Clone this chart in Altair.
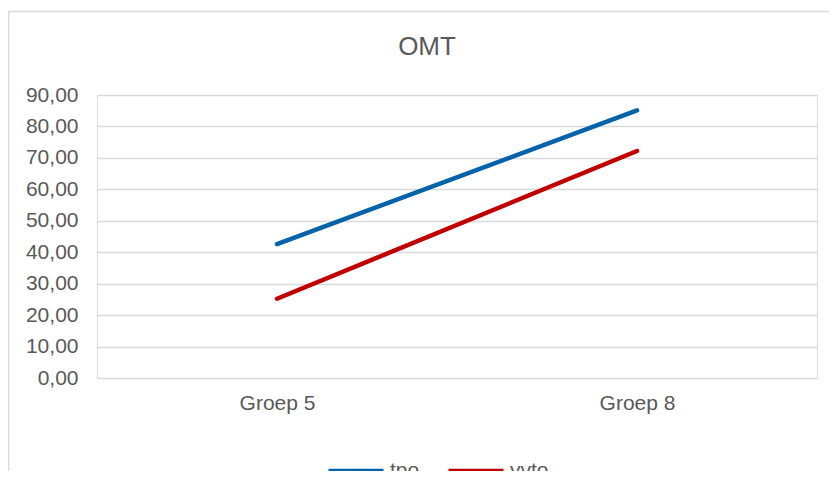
import altair as alt
import pandas as pd

categories = ["Groep 5", "Groep 8"]
series_names = ["tpo", "vvto"]
tpo_values = [42.6, 85.1]
vvto_values = [25.2, 72.2]
y_ticks = [0, 10, 20, 30, 40, 50, 60, 70, 80, 90]
colors = ["#0563A9", "#C00000"]

rows = []
for name, vals in zip(series_names, [tpo_values, vvto_values]):
    for c, v in zip(categories, vals):
        rows.append({"groep": c, "serie": name, "waarde": v})
df = pd.DataFrame(rows)

FONT = "Liberation Sans"
GREY = "#595959"
W, H = 720, 283

lines = alt.Chart(df).mark_line(strokeWidth=4.5, strokeCap="round").encode(
    x=alt.X("groep:N", sort=categories, title=None,
            scale=alt.Scale(type="point", padding=0.5),
            axis=alt.Axis(labelAngle=0, labelFontSize=21, labelColor=GREY, labelFont=FONT,
                          ticks=False, tickSize=0, domain=False, grid=False, labelPadding=14)),
    y=alt.Y("waarde:Q", title=None,
            scale=alt.Scale(domain=[0, 90], nice=False, zero=True),
            axis=alt.Axis(values=y_ticks, labelExpr="replace(format(datum.value, '.2f'), '.', ',')",
                          labelFontSize=21, labelColor=GREY, labelFont=FONT,
                          ticks=False, tickSize=0, domain=False, grid=True,
                          gridColor="#D9D9D9", gridWidth=1.3, labelPadding=19)),
    color=alt.Color("serie:N", sort=series_names,
                    scale=alt.Scale(domain=series_names, range=colors),
                    legend=alt.Legend(title=None, orient="none", direction="horizontal",
                                      legendX=229, legendY=346, symbolType="stroke",
                                      symbolSize=3025, symbolStrokeWidth=4.5,
                                      labelFontSize=21, labelColor=GREY, labelFont=FONT,
                                      labelOffset=4, columnPadding=19, padding=0)),
)

title = alt.Chart(pd.DataFrame({"t": ["OMT"]})).mark_text(
    fontSize=26, font=FONT, color=GREY, baseline="middle", align="center"
).encode(text="t:N", x=alt.value(330), y=alt.value(-48))

border_left = alt.Chart(pd.DataFrame({"a": [0]})).mark_rule(color="#D9D9D9", strokeWidth=1.5).encode(
    x=alt.value(-88.5), y=alt.value(-83.5), y2=alt.value(380))
border_top = alt.Chart(pd.DataFrame({"a": [0]})).mark_rule(color="#D9D9D9", strokeWidth=1.5).encode(
    x=alt.value(-88.5), x2=alt.value(740), y=alt.value(-83.5))

chart = alt.layer(border_left, border_top, lines, title).properties(
    width=W, height=H,
    autosize=alt.AutoSizeParams(type="none"),
    padding={"left": 89, "top": 87, "right": 12, "bottom": 93},
).configure_view(stroke=None).configure(background="white")

chart.save("out.html", embed_options={"renderer": "svg", "actions": False})
